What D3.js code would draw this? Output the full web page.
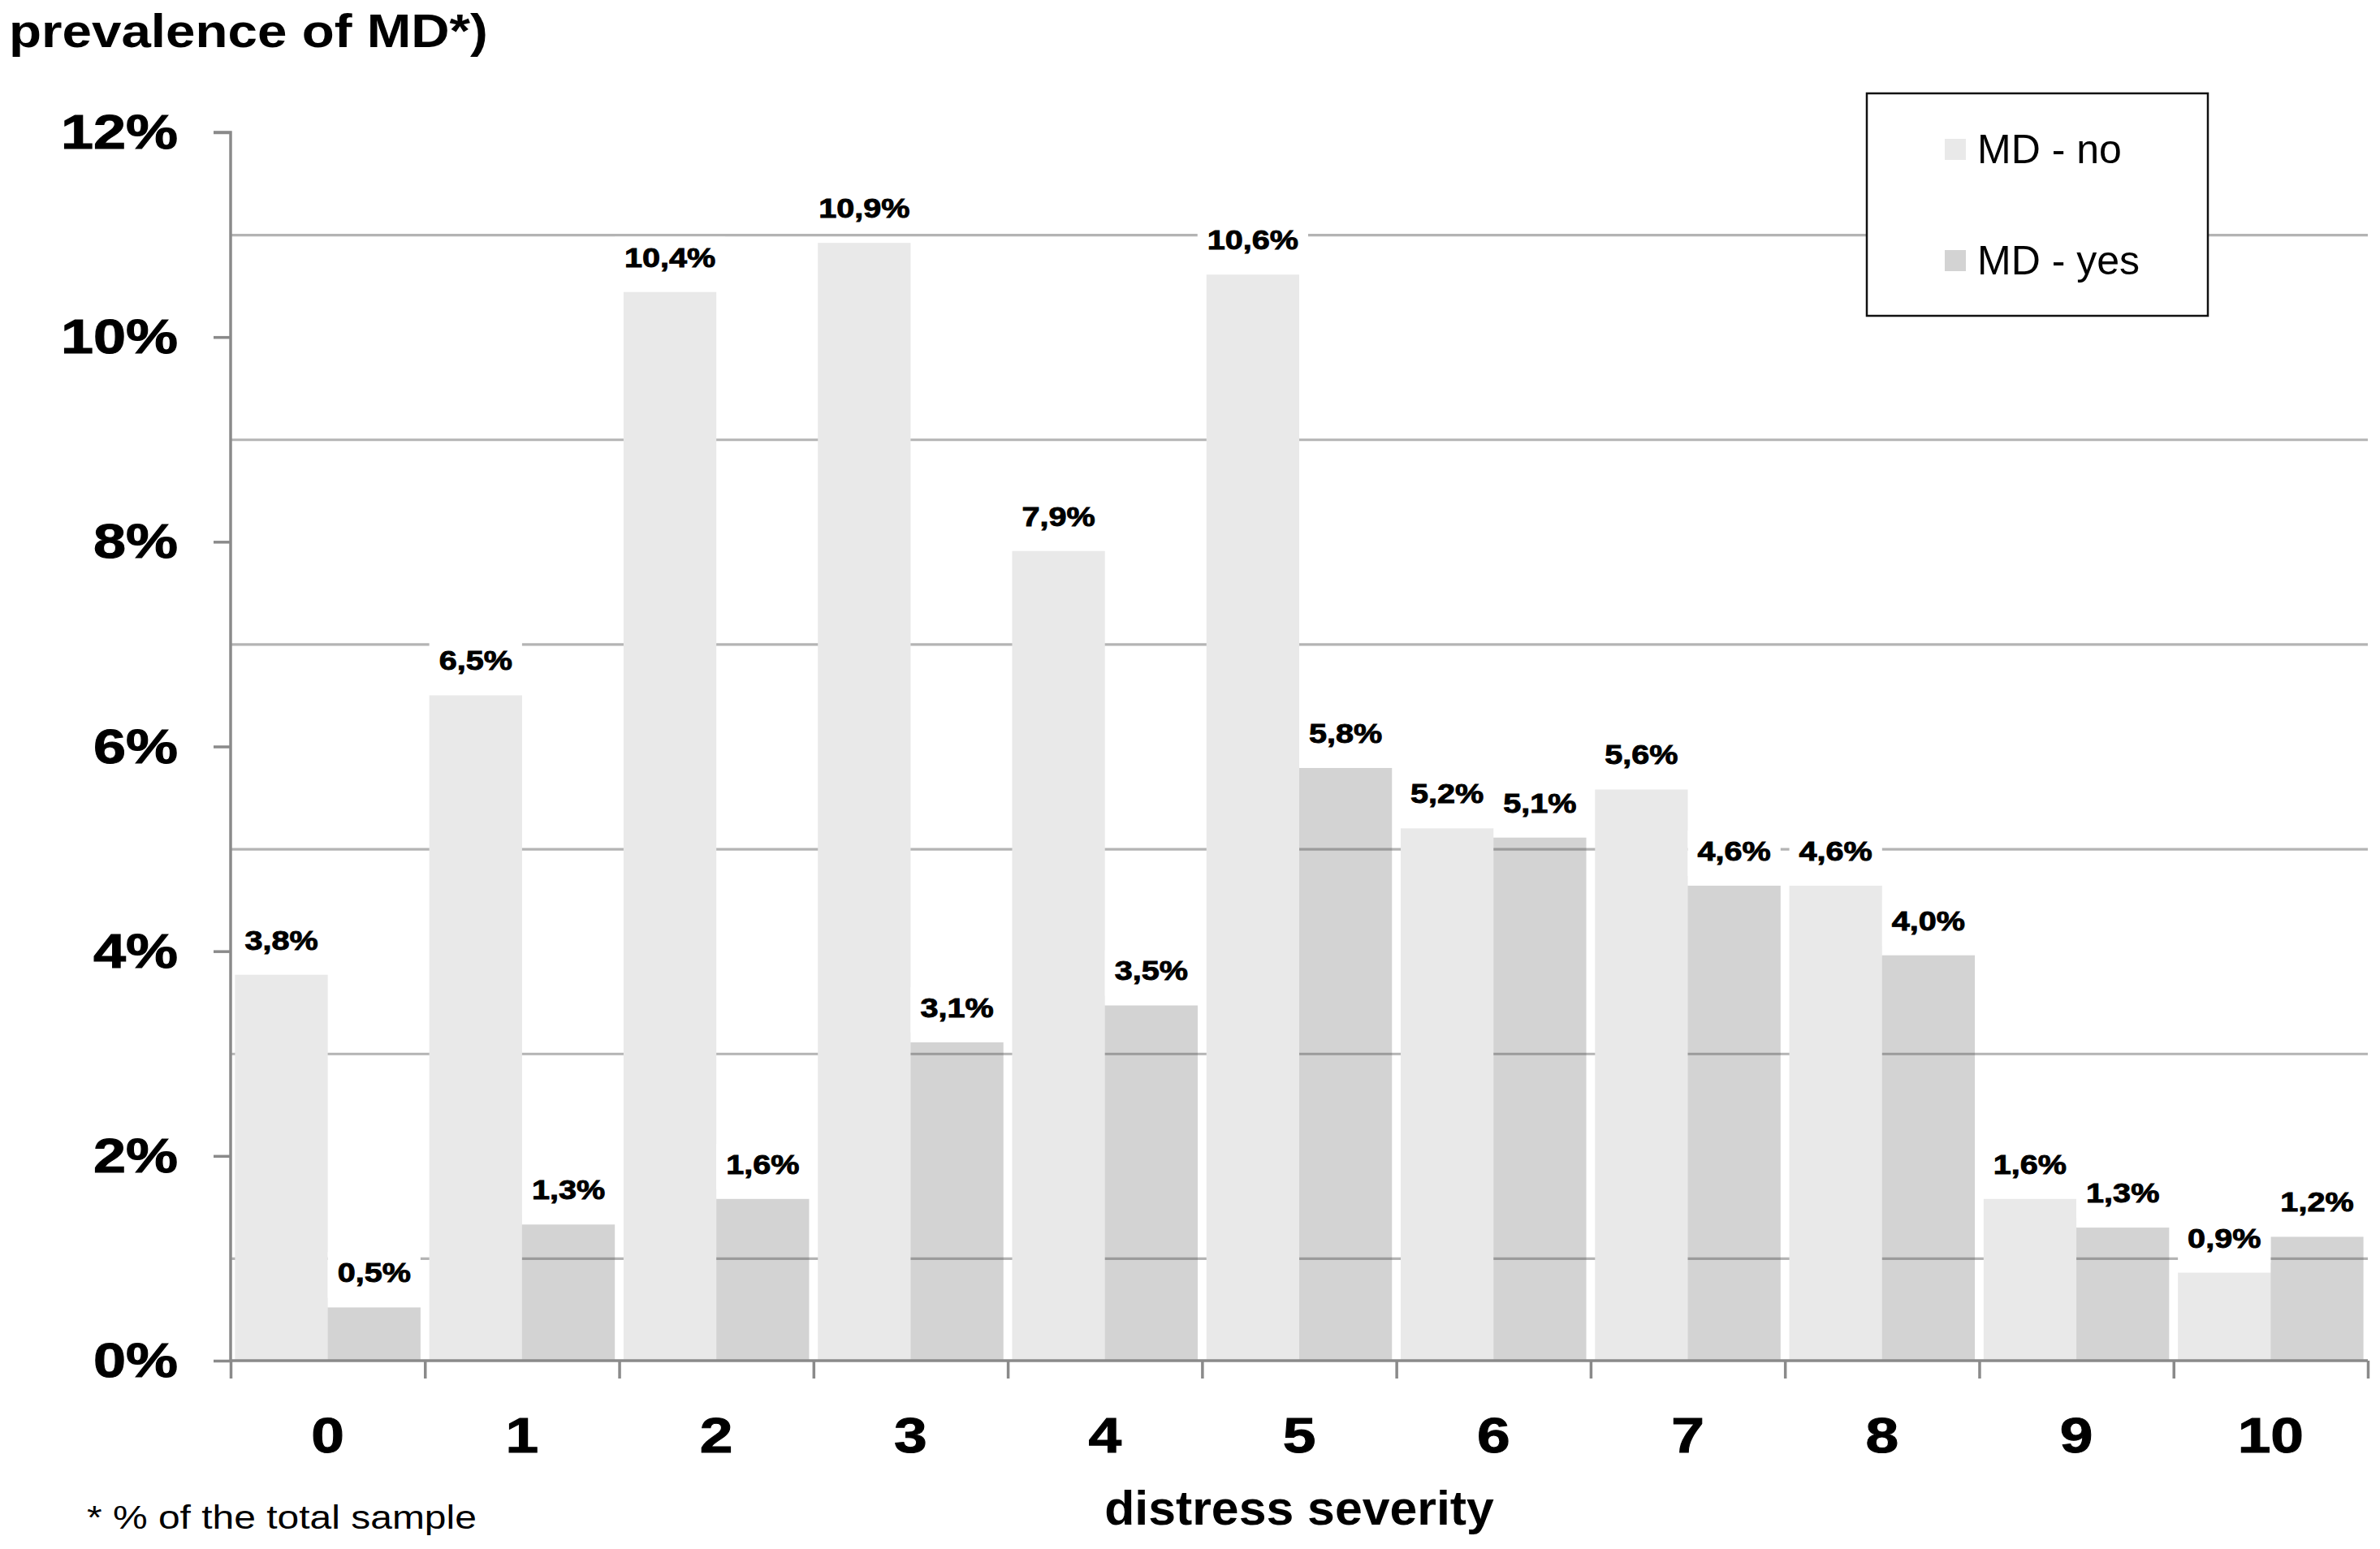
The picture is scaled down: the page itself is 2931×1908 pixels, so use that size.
<!DOCTYPE html>
<html>
<head>
<meta charset="utf-8">
<script src="https://cdn.jsdelivr.net/npm/d3@7"></script>
<style>
html,body{margin:0;padding:0;background:#fff;}
svg{display:block;}
text{font-family:"Liberation Sans",Arial,Helvetica,sans-serif;}
</style>
</head>
<body>
<script>
// ---- data ----
const categories = ["0","1","2","3","4","5","6","7","8","9","10"];
const seriesNames = ["MD - no","MD - yes"];
const mdNo  = [3.77, 6.50, 10.44, 10.92, 7.91, 10.61, 5.20, 5.58, 4.64, 1.58, 0.86];
const mdYes = [0.52, 1.33, 1.58, 3.11, 3.47, 5.79, 5.11, 4.64, 3.96, 1.30, 1.21];
const yTickValues = [0, 2, 4, 6, 8, 10, 12];
const gridValues = [1, 3, 5, 7, 9, 11];
const yAxisTitle = "prevalence of MD*)";
const xAxisTitle = "distress severity";
const footnote = "* % of the total sample";

(function () {
// ---- layout ----
const W = 2931, H = 1908;
const pL = 284, pR = 2916, pT = 163, pB = 1676;
const fillNo = "#e9e9e9";
const yesColor = "#515151", yesOpacity = 0.253;
const axisColor = "#8a8a8a";
const gridColor = "#b4b4b4";

const svg = d3.select("body").append("svg").attr("width", W).attr("height", H);

const y = d3.scaleLinear().domain([0, 12]).range([pB, pT]);
const x = d3.scaleBand().domain(categories).range([pL, pR]).paddingInner(0.045).paddingOuter(0.0225);
const xs = d3.scaleBand().domain(seriesNames).range([0, x.bandwidth()]);
const xEdge = d3.scaleLinear().domain([0, categories.length]).range([pL, pR]);

// gridlines
const grid = svg.append("g").attr("transform", `translate(${pL},0)`)
  .call(d3.axisLeft(y).tickValues(gridValues).tickSize(-(pR - pL)).tickFormat(""));
grid.select(".domain").remove();
grid.selectAll("line").attr("stroke", gridColor).attr("stroke-width", 3.2);

// bars
const rows = categories.map((c, i) => ({cat: c, vals: [mdNo[i], mdYes[i]]}));
const groups = svg.append("g").selectAll("g").data(rows).join("g")
  .attr("transform", d => `translate(${x(d.cat)},0)`);
groups.selectAll("rect").data(d => d.vals.map((v, j) => ({s: seriesNames[j], v}))).join("rect")
  .attr("x", d => xs(d.s))
  .attr("width", xs.bandwidth())
  .attr("y", d => y(d.v))
  .attr("height", d => y(0) - y(d.v))
  .attr("fill", d => d.s === seriesNames[0] ? fillNo : yesColor)
  .attr("fill-opacity", d => d.s === seriesNames[0] ? 1 : yesOpacity);

// y axis
const yAx = svg.append("g").attr("transform", `translate(${pL},0)`)
  .call(d3.axisLeft(y).tickValues(yTickValues).tickSize(21).tickFormat(""));
yAx.select(".domain").attr("stroke", axisColor).attr("stroke-width", 3.5)
  .attr("d", `M-21,${y(12)}H0V${y(0)}`);
yAx.selectAll("line").attr("stroke", axisColor).attr("stroke-width", 3.5);
svg.append("g").selectAll("text").data(yTickValues).join("text")
  .attr("transform", d => `translate(219,${y(d) + 20}) scale(1.2,1)`)
  .attr("text-anchor", "end")
  .attr("font-weight", "bold").attr("font-size", 60).attr("fill", "#000")
  .attr("stroke", "#000").attr("stroke-width", 1)
  .text(d => d + "%");

// x axis
const xAx = svg.append("g").attr("transform", `translate(0,${pB})`)
  .call(d3.axisBottom(xEdge).tickValues(d3.range(categories.length + 1)).tickSize(22).tickFormat(""));
xAx.select(".domain").attr("stroke", axisColor).attr("stroke-width", 3.5)
  .attr("d", `M${pL},0H${pR}`);
xAx.selectAll("line").attr("stroke", axisColor).attr("stroke-width", 3.5);
svg.append("g").selectAll("text").data(categories).join("text")
  .attr("transform", d => `translate(${x(d) + x.bandwidth() / 2},1789) scale(1.18,1)`)
  .attr("text-anchor", "middle")
  .attr("font-weight", "bold").attr("font-size", 62).attr("fill", "#000")
  .attr("stroke", "#000").attr("stroke-width", 1)
  .text(d => d);

// data labels with white boxes
const fmt = v => d3.format(".1f")(v).replace(".", ",") + "%";
const labelG = svg.append("g");
const sx = 1.2;
rows.forEach(r => {
  r.vals.forEach((v, j) => {
    const cx = x(r.cat) + xs(seriesNames[j]) + xs.bandwidth() / 2;
    const by = y(v) - 31;
    const g = labelG.append("g").attr("transform", `translate(${cx},${by})`);
    const rect = g.append("rect").attr("fill", "#fff");
    const t = g.append("text").attr("transform", `scale(${sx},1)`)
      .attr("text-anchor", "middle").attr("font-weight", "bold").attr("font-size", 33)
      .attr("fill", "#000").attr("stroke", "#000").attr("stroke-width", 0.9)
      .text(fmt(v));
    const bb = t.node().getBBox();
    const w = bb.width * sx + 24;
    rect.attr("x", -w / 2).attr("width", w).attr("y", -37).attr("height", 56);
  });
});

// legend
const lg = svg.append("g");
lg.append("rect").attr("x", 2299).attr("y", 115).attr("width", 420).attr("height", 274)
  .attr("fill", "#fff").attr("stroke", "#111").attr("stroke-width", 2.5);
const legY = d3.scalePoint().domain(seriesNames).range([184, 321]);
seriesNames.forEach((s, j) => {
  lg.append("rect").attr("x", 2395).attr("y", legY(s) - 13).attr("width", 26).attr("height", 26)
    .attr("fill", j === 0 ? fillNo : yesColor).attr("fill-opacity", j === 0 ? 1 : yesOpacity);
  lg.append("text").attr("x", 2435).attr("y", legY(s) + 17)
    .attr("font-size", 50).attr("fill", "#000").text(s);
});

// titles
svg.append("text").attr("transform", `translate(11,58) scale(1.13,1)`)
  .attr("font-weight", "bold").attr("font-size", 58).attr("fill", "#000").text(yAxisTitle);
svg.append("text").attr("transform", `translate(${(pL + pR) / 2},1878) scale(1.03,1)`)
  .attr("text-anchor", "middle").attr("font-weight", "bold").attr("font-size", 59)
  .attr("fill", "#000").text(xAxisTitle);
svg.append("text").attr("transform", `translate(107,1883) scale(1.17,1)`)
  .attr("font-size", 41).attr("fill", "#000").text(footnote);
})();
</script>
</body>
</html>
